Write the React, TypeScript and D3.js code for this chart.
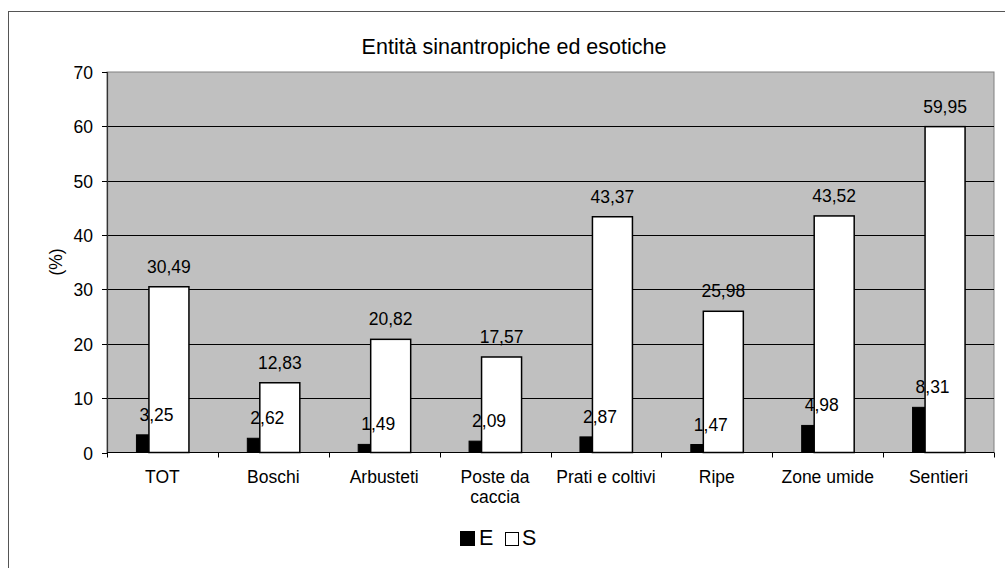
import React, { useEffect, useRef } from "react";
import * as d3 from "d3";

const categories = ["TOT", "Boschi", "Arbusteti", "Poste da caccia", "Prati e coltivi", "Ripe", "Zone umide", "Sentieri"];
const seriesE = [3.25, 2.62, 1.49, 2.09, 2.87, 1.47, 4.98, 8.31];
const seriesS = [30.49, 12.83, 20.82, 17.57, 43.37, 25.98, 43.52, 59.95];
const yTicks = [0, 10, 20, 30, 40, 50, 60, 70];

const FONT = "'Liberation Sans', Arial, Helvetica, sans-serif";
const fmt = (v: number) => v.toFixed(2).replace(".", ",");

const App: React.FC = () => {
  const svgRef = useRef<SVGSVGElement>(null);

  useEffect(() => {
    if (!svgRef.current) return;
    const svg = d3.select(svgRef.current);
    svg.selectAll("*").remove();

    const W = 1005;
    const H = 568;
    const plot = { left: 107, right: 994, top: 72, bottom: 452.5 };

    // outer chart frame (runs off the right/bottom of the picture)
    svg.append("rect")
      .attr("x", 8.5).attr("y", 11.5)
      .attr("width", W).attr("height", H)
      .attr("fill", "#fff").attr("stroke", "#555").attr("stroke-width", 1);

    const x = d3.scaleBand<string>().domain(categories).range([plot.left, plot.right]).padding(0);
    const y = d3.scaleLinear().domain([0, 70]).range([plot.bottom, plot.top]);

    // plot area
    svg.append("rect")
      .attr("x", plot.left).attr("y", plot.top)
      .attr("width", plot.right - plot.left).attr("height", plot.bottom - plot.top)
      .attr("fill", "#c0c0c0").attr("stroke", "#808080").attr("stroke-width", 1);

    // gridlines
    svg.append("g").selectAll("line")
      .data(yTicks.filter(t => t > 0 && t < 70))
      .enter().append("line")
      .attr("x1", plot.left).attr("x2", plot.right)
      .attr("y1", d => Math.round(y(d)) + 0.5).attr("y2", d => Math.round(y(d)) + 0.5)
      .attr("stroke", "#000").attr("stroke-width", 1);

    const barW = 40;
    const cx = (c: string) => (x(c) as number) + x.bandwidth() / 2;

    // E bars (behind)
    svg.append("g").selectAll("rect")
      .data(categories)
      .enter().append("rect")
      .attr("x", (c) => cx(c) - 26)
      .attr("y", (c, i) => y(seriesE[i]))
      .attr("width", barW)
      .attr("height", (c, i) => plot.bottom - y(seriesE[i]))
      .attr("fill", "#000").attr("stroke", "#000").attr("stroke-width", 1);

    // S bars (front, overlapping)
    svg.append("g").selectAll("rect")
      .data(categories)
      .enter().append("rect")
      .attr("x", (c) => cx(c) - 13.5)
      .attr("y", (c, i) => y(seriesS[i]))
      .attr("width", barW)
      .attr("height", (c, i) => plot.bottom - y(seriesS[i]))
      .attr("fill", "#fff").attr("stroke", "#000").attr("stroke-width", 1.5);

    // data labels
    const labels = svg.append("g")
      .attr("font-family", FONT).attr("font-size", 17.5).attr("fill", "#000")
      .attr("text-anchor", "middle");
    categories.forEach((c, i) => {
      labels.append("text")
        .attr("x", cx(c) - 26 + barW / 2)
        .attr("y", y(seriesE[i]) - 14)
        .text(fmt(seriesE[i]));
      labels.append("text")
        .attr("x", cx(c) - 13.5 + barW / 2)
        .attr("y", y(seriesS[i]) - 14)
        .text(fmt(seriesS[i]));
    });

    // y axis line + ticks
    svg.append("line")
      .attr("x1", plot.left + 0.5).attr("x2", plot.left + 0.5)
      .attr("y1", plot.top).attr("y2", plot.bottom)
      .attr("stroke", "#333").attr("stroke-width", 1.2);
    const yAxis = svg.append("g");
    yTicks.forEach(t => {
      const yy = Math.round(y(t)) + 0.5;
      yAxis.append("line")
        .attr("x1", plot.left - 5).attr("x2", plot.left)
        .attr("y1", yy).attr("y2", yy)
        .attr("stroke", "#000");
      yAxis.append("text")
        .attr("x", 93).attr("y", yy).attr("dy", "0.36em")
        .attr("text-anchor", "end")
        .attr("font-family", FONT).attr("font-size", 17.5)
        .text(t);
    });

    // x axis line + ticks
    svg.append("line")
      .attr("x1", plot.left).attr("x2", plot.right)
      .attr("y1", plot.bottom).attr("y2", plot.bottom)
      .attr("stroke", "#000").attr("stroke-width", 1.2);
    const bounds = categories.map(c => x(c) as number).concat([plot.right]);
    svg.append("g").selectAll("line")
      .data(bounds)
      .enter().append("line")
      .attr("x1", d => Math.round(d) + 0.5).attr("x2", d => Math.round(d) + 0.5)
      .attr("y1", plot.bottom).attr("y2", plot.bottom + 5)
      .attr("stroke", "#000");

    // category labels, wrapped to the band width
    const canvas = document.createElement("canvas");
    const ctx = canvas.getContext("2d")!;
    ctx.font = "17.5px 'Liberation Sans', Arial, sans-serif";
    const wrap = (s: string) => {
      const words = s.split(" ");
      const lines: string[] = [];
      let cur = "";
      words.forEach(w => {
        const test = cur ? cur + " " + w : w;
        if (ctx.measureText(test).width > x.bandwidth() - 4 && cur) {
          lines.push(cur);
          cur = w;
        } else cur = test;
      });
      lines.push(cur);
      return lines;
    };
    const xl = svg.append("g")
      .attr("font-family", FONT).attr("font-size", 17.5).attr("text-anchor", "middle");
    categories.forEach(c => {
      const t = xl.append("text").attr("x", cx(c)).attr("y", 483);
      wrap(c).forEach((ln, j) => {
        t.append("tspan").attr("x", cx(c)).attr("dy", j === 0 ? 0 : 20).text(ln);
      });
    });

    // y axis title
    svg.append("text")
      .attr("transform", `translate(62,262) rotate(-90)`)
      .attr("text-anchor", "middle")
      .attr("font-family", FONT).attr("font-size", 17.5)
      .text("(%)");

    // chart title
    svg.append("text")
      .attr("x", 514).attr("y", 54)
      .attr("text-anchor", "middle")
      .attr("font-family", FONT).attr("font-size", 21.5)
      .text("Entità sinantropiche ed esotiche");

    // legend
    const lg = svg.append("g").attr("font-family", FONT).attr("font-size", 21.5);
    lg.append("rect").attr("x", 460).attr("y", 531).attr("width", 15).attr("height", 15).attr("fill", "#000");
    lg.append("text").attr("x", 479).attr("y", 545).text("E");
    lg.append("rect").attr("x", 505.5).attr("y", 532.5).attr("width", 13).attr("height", 13)
      .attr("fill", "#fff").attr("stroke", "#000").attr("stroke-width", 1);
    lg.append("text").attr("x", 522).attr("y", 545).text("S");
  }, []);

  return (
    <svg
      ref={svgRef}
      width={1005}
      height={568}
      style={{ position: "absolute", left: 0, top: 0, display: "block", background: "#fff" }}
    />
  );
};

export default App;
